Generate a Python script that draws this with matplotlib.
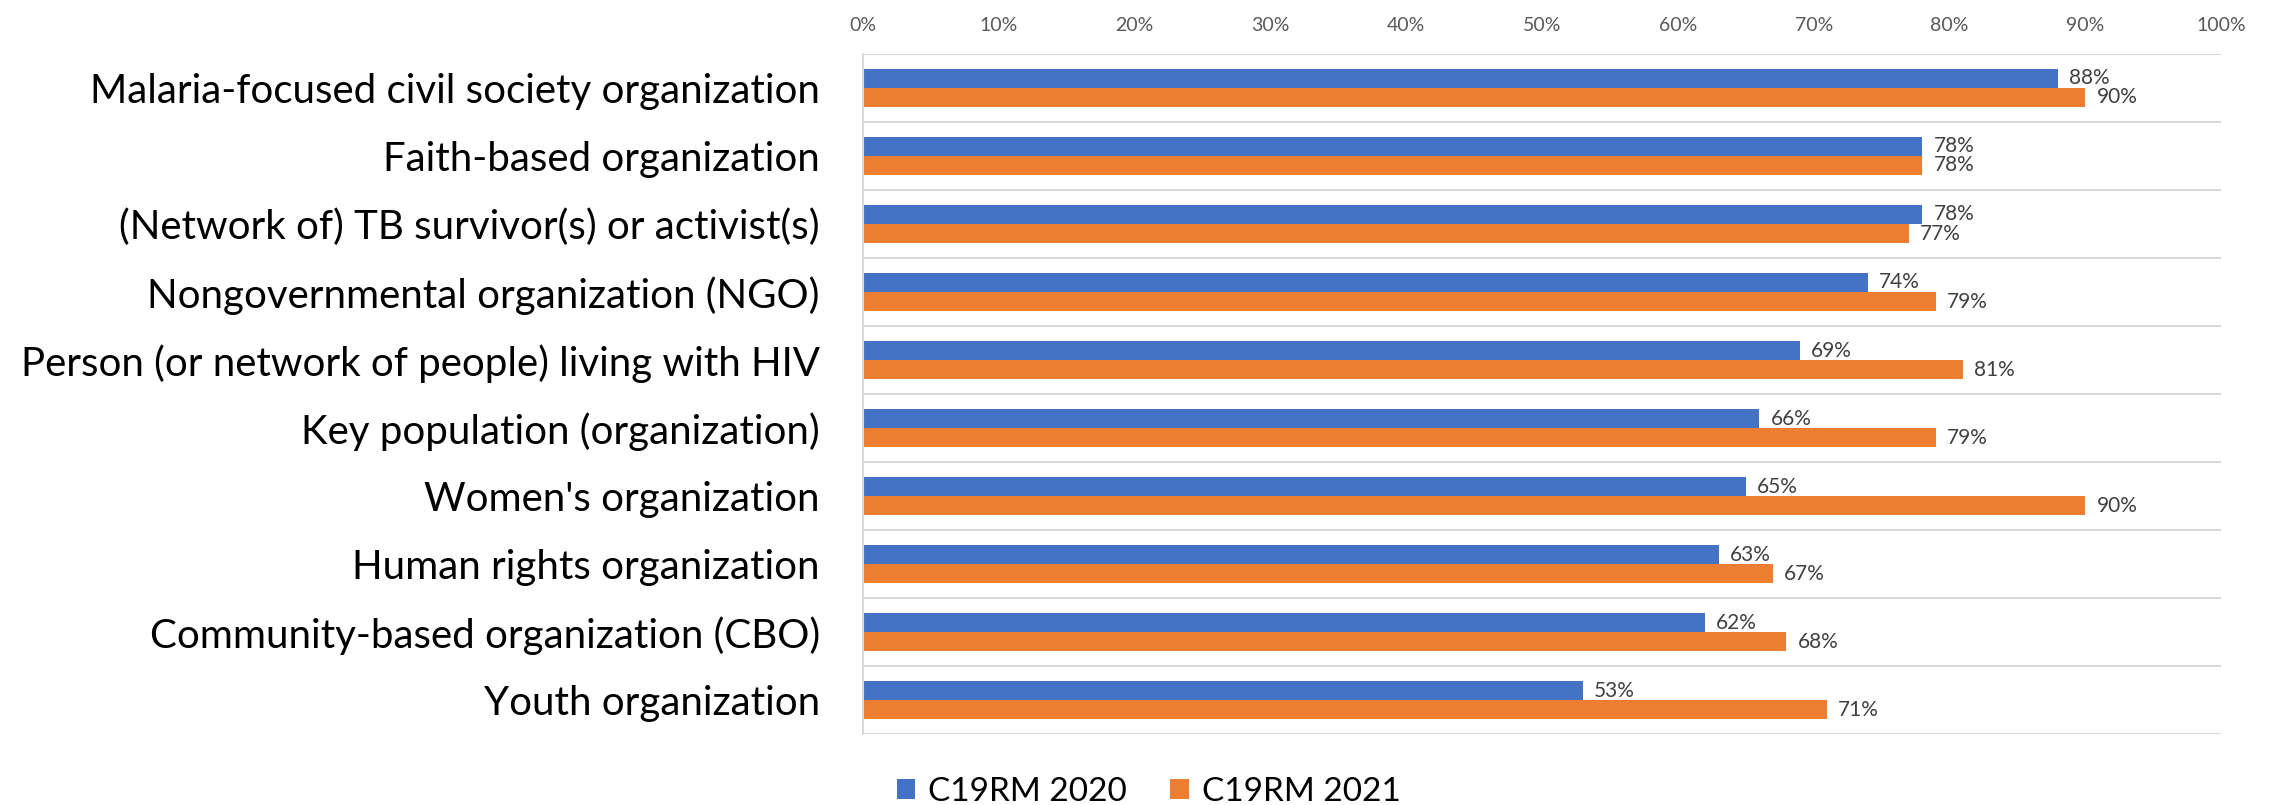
import matplotlib.pyplot as plt
import numpy as np
from matplotlib.ticker import PercentFormatter

categories = [
    "Malaria-focused civil society organization",
    "Faith-based organization",
    "(Network of) TB survivor(s) or activist(s)",
    "Nongovernmental organization (NGO)",
    "Person (or network of people) living with HIV",
    "Key population (organization)",
    "Women's organization",
    "Human rights organization",
    "Community-based organization (CBO)",
    "Youth organization",
]
c19rm_2020 = [88, 78, 78, 74, 69, 66, 65, 63, 62, 53]
c19rm_2021 = [90, 78, 77, 79, 81, 79, 90, 67, 68, 71]
series_names = ["C19RM 2020", "C19RM 2021"]

blue = "#4472C4"
orange = "#ED7D31"
grid_c = "#D9D9D9"

plt.rcParams["font.family"] = ["Lato", "DejaVu Sans"]

fig = plt.figure(figsize=(22.75, 8.05), dpi=100)
ax = fig.add_axes([0.3793, 0.088, 0.597, 0.845])

y = np.arange(len(categories))
h = 0.28

bars1 = ax.barh(y - h / 2, c19rm_2020, height=h, color=blue, label=series_names[0])
bars2 = ax.barh(y + h / 2, c19rm_2021, height=h, color=orange, label=series_names[1])

for bars in (bars1, bars2):
    for bar in bars:
        w = bar.get_width()
        ax.annotate(f"{w:.0f}%", (w, bar.get_y() + bar.get_height() / 2),
                    xytext=(8, 0), textcoords="offset points",
                    ha="left", va="center", fontsize=15, color="#404040")

ax.set_xlim(0, 100)
ax.set_ylim(len(categories) - 0.5, -0.5)
ax.set_xticks(np.arange(0, 101, 10))
ax.xaxis.set_major_formatter(PercentFormatter(decimals=0))
ax.xaxis.tick_top()
ax.tick_params(axis="x", length=0, pad=14, labelsize=14, labelcolor="#595959")

ax.set_yticks(y, categories)
ax.tick_params(axis="y", length=0, pad=31, labelsize=29, labelcolor="black")

# category separator lines
for b in np.arange(-0.5, len(categories), 1):
    ax.axhline(b, color=grid_c, lw=1.5, zorder=0)

for s in ("top", "right", "bottom"):
    ax.spines[s].set_visible(False)
ax.spines["left"].set_color(grid_c)
ax.spines["left"].set_linewidth(1.5)

fig.legend(handles=[bars1, bars2], labels=series_names, loc="lower center",
           bbox_to_anchor=(0.505, -0.04), ncol=2, frameon=False, fontsize=24,
           handlelength=0.55, handleheight=0.55, handletextpad=0.4, columnspacing=1.3)

fig.savefig("out.png", dpi=100)
